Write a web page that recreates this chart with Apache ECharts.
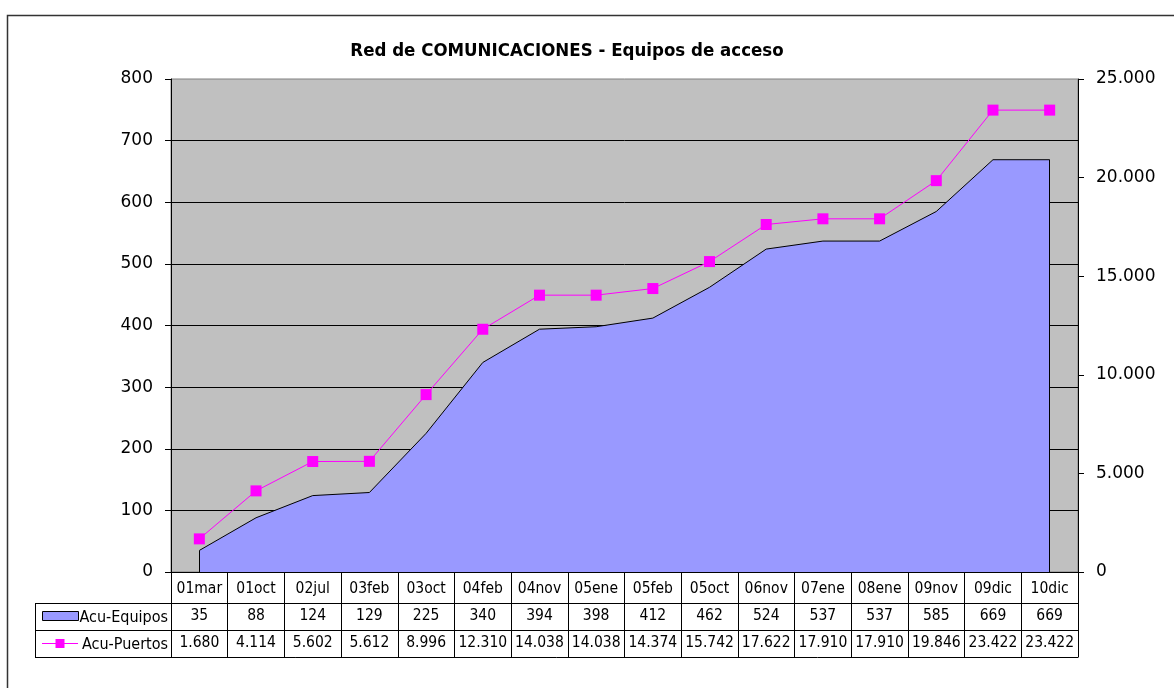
<!DOCTYPE html>
<html>
<head>
<meta charset="utf-8">
<style>
  html, body { margin: 0; padding: 0; background: #fff; }
  #chart { width: 1174px; height: 688px; }
</style>
<script src="https://cdn.jsdelivr.net/npm/echarts@6/dist/echarts.min.js"></script>
</head>
<body>
<div id="chart"></div>
<script>
// Fechas de cada hito
const categories = ['01mar', '01oct', '02jul', '03feb', '03oct', '04feb', '04nov', '05ene',
  '05feb', '05oct', '06nov', '07ene', '08ene', '09nov', '09dic', '10dic'];
// Equipos acumulados (eje izquierdo)
const acuEquipos = [35, 88, 124, 129, 225, 340, 394, 398, 412, 462, 524, 537, 537, 585, 669, 669];
// Puertos acumulados (eje derecho)
const acuPuertos = [1680, 4114, 5602, 5612, 8996, 12310, 14038, 14038, 14374, 15742, 17622, 17910,
  17910, 19846, 23422, 23422];
const seriesNames = ['Acu-Equipos', 'Acu-Puertos'];
const chartTitle = 'Red de COMUNICACIONES - Equipos de acceso';

const FONT = 'DejaVu Sans';
const FONT_TABLE = 'DejaVu Sans Condensed';
const fmtMiles = v => String(v).replace(/\B(?=(\d{3})+(?!\d))/g, '.');

const GRID = { left: 171, top: 79, width: 907, height: 493 };
const ROW1 = 31, ROW2 = 27, ROW3 = 27;
const tableTop = GRID.top + GRID.height;
const legendLeft = 35;

const chart = echarts.init(document.getElementById('chart'));

function tableAxis(offset, rowH, formatter, margin) {
  return {
    type: 'category',
    data: categories,
    position: 'bottom',
    offset: offset,
    boundaryGap: true,
    axisLine: { show: true, onZero: false, lineStyle: { color: '#000', width: 1 } },
    axisTick: { show: true, interval: 0, length: rowH, lineStyle: { color: '#000', width: 1 } },
    axisLabel: {
      interval: 0, margin: margin, color: '#000', fontFamily: FONT_TABLE, fontSize: 15.5,
      formatter: formatter
    },
    splitLine: { show: false }
  };
}

const option = {
  backgroundColor: '#fff',
  animation: false,
  title: {
    text: chartTitle,
    left: 562, top: 37, textAlign: 'center',
    textStyle: { fontFamily: FONT_TABLE, fontSize: 18.5, fontWeight: 'bold', color: '#000' }
  },
  grid: {
    left: GRID.left, top: GRID.top, width: GRID.width, height: GRID.height,
    show: true, backgroundColor: '#C0C0C0', borderColor: '#808080', borderWidth: 1
  },
  xAxis: [
    tableAxis(0, ROW1, v => v, 9),
    tableAxis(ROW1, ROW2, (v, i) => fmtMiles(acuEquipos[i]), 5),
    tableAxis(ROW1 + ROW2, ROW3, (v, i) => fmtMiles(acuPuertos[i]), 5)
  ],
  yAxis: [
    {
      type: 'value', min: 0, max: 800, interval: 100, position: 'left',
      axisLine: { show: true, onZero: false, lineStyle: { color: '#000', width: 1 } },
      axisTick: { show: true, length: 6, lineStyle: { color: '#000' } },
      axisLabel: { color: '#000', fontFamily: FONT, fontSize: 17, margin: 18 },
      splitLine: { show: true, showMaxLine: false, lineStyle: { color: '#000', width: 1 } }
    },
    {
      type: 'value', min: 0, max: 25000, interval: 5000, position: 'right',
      axisLine: { show: true, onZero: false, lineStyle: { color: '#000', width: 1 } },
      axisTick: { show: true, length: 6, lineStyle: { color: '#000' } },
      axisLabel: { color: '#000', fontFamily: FONT, fontSize: 17, margin: 18, formatter: fmtMiles },
      splitLine: { show: false }
    }
  ],
  series: [
    {
      name: seriesNames[0],
      type: 'line',
      xAxisIndex: 0, yAxisIndex: 0,
      data: acuEquipos,
      showSymbol: false, symbol: 'none',
      lineStyle: { color: '#000', width: 1 },
      areaStyle: { color: '#9999FF', opacity: 1 },
      z: 2,
      markLine: {
        silent: true, symbol: 'none', label: { show: false },
        lineStyle: { color: '#000', width: 1, type: 'solid' },
        data: [
          [{ xAxis: 0, yAxis: 0 }, { xAxis: 0, yAxis: acuEquipos[0] }],
          [{ xAxis: categories.length - 1, yAxis: 0 },
           { xAxis: categories.length - 1, yAxis: acuEquipos[acuEquipos.length - 1] }]
        ]
      }
    },
    {
      name: seriesNames[1],
      type: 'line',
      xAxisIndex: 0, yAxisIndex: 1,
      data: acuPuertos,
      symbol: 'rect', symbolSize: 11,
      itemStyle: { color: '#FF00FF' },
      lineStyle: { color: '#FF00FF', width: 1 },
      z: 3
    }
  ]
};

chart.setOption(option);

// Marco del gráfico y celdas de leyenda de la tabla de datos
const r2 = tableTop + ROW1, r3 = r2 + ROW2, rEnd = r3 + ROW3;
const gx = GRID.left, gr = GRID.left + GRID.width;
const keyL = 42, keyW = 36;
const legendFont = '16px "DejaVu Sans Condensed"';
chart.setOption({
  graphic: [
    { type: 'rect', shape: { x: 7.5, y: 15.5, width: 1200, height: 700 },
      style: { fill: null, stroke: '#333', lineWidth: 1.5 }, silent: true, z: -10 },
    { type: 'line', shape: { x1: legendLeft, y1: r2 + 0.5, x2: gx, y2: r2 + 0.5 },
      style: { stroke: '#000', lineWidth: 1 }, silent: true },
    { type: 'line', shape: { x1: legendLeft, y1: r3 + 0.5, x2: gx, y2: r3 + 0.5 },
      style: { stroke: '#000', lineWidth: 1 }, silent: true },
    { type: 'line', shape: { x1: legendLeft, y1: rEnd + 0.5, x2: gr + 0.5, y2: rEnd + 0.5 },
      style: { stroke: '#000', lineWidth: 1 }, silent: true },
    { type: 'line', shape: { x1: legendLeft + 0.5, y1: r2, x2: legendLeft + 0.5, y2: rEnd },
      style: { stroke: '#000', lineWidth: 1 }, silent: true },
    // clave Acu-Equipos
    { type: 'rect', shape: { x: keyL + 0.5, y: r2 + 8.5, width: keyW, height: 9 },
      style: { fill: '#9999FF', stroke: '#000', lineWidth: 1 }, silent: true },
    { type: 'text', style: { text: seriesNames[0], x: gx - 3, y: r2 + ROW2 / 2 + 1,
      align: 'right', verticalAlign: 'middle', fill: '#000', font: legendFont }, silent: true },
    // clave Acu-Puertos
    { type: 'line', shape: { x1: keyL, y1: r3 + 13.5, x2: keyL + keyW, y2: r3 + 13.5 },
      style: { stroke: '#FF00FF', lineWidth: 1 }, silent: true },
    { type: 'rect', shape: { x: keyL + keyW / 2 - 4.5, y: r3 + 9, width: 9, height: 9 },
      style: { fill: '#FF00FF' }, silent: true },
    { type: 'text', style: { text: seriesNames[1], x: gx - 3, y: r3 + ROW3 / 2 + 1,
      align: 'right', verticalAlign: 'middle', fill: '#000', font: legendFont }, silent: true }
  ]
});
</script>
</body>
</html>
